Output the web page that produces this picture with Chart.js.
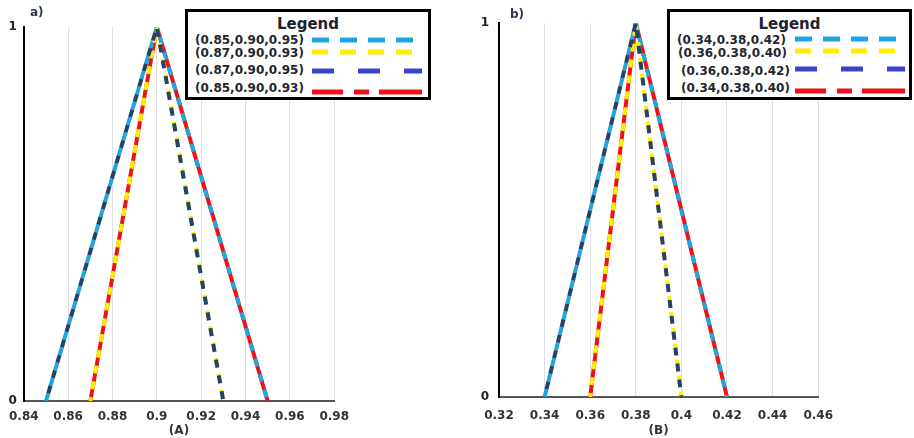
<!DOCTYPE html>
<html>
<head>
<meta charset="utf-8">
<script src="https://cdn.jsdelivr.net/npm/chart.js@4.4.1/dist/chart.umd.min.js"></script>
<style>
body{margin:0;background:#fff;width:914px;height:438px;position:relative;overflow:hidden;font-family:"DejaVu Sans",sans-serif;}
canvas{position:absolute;top:0;}
#chartA{left:0;}
#chartB{left:470px;}
.tag{position:absolute;font:bold 12px "DejaVu Sans";color:#2e3650;}
.legend{position:absolute;top:9px;height:91px;border:3px solid #000;box-sizing:border-box;background:#fff;z-index:2;}
.legend .ttl{position:absolute;top:3px;left:0;right:0;text-align:center;font:bold 15px "DejaVu Sans";color:#1e2230;}
.legend .row{position:absolute;font:bold 12px "DejaVu Sans";color:#23262e;white-space:nowrap;line-height:14px;}
.legend svg{position:absolute;}
</style>
</head>
<body>
<canvas id="chartA" width="358" height="438"></canvas>
<canvas id="chartB" width="375" height="438"></canvas>
<div class="tag" style="left:30px;top:5px;">a)</div>
<div class="tag" style="left:510px;top:7px;">b)</div>
<div class="legend" id="legendA" style="left:185px;width:246px;"></div>
<div class="legend" id="legendB" style="left:667px;width:245px;"></div>
<script>
// ================================
// DATA
// ================================

const membership = [0, 1, 0];

// panel (A) triangles, as drawn
const lightBlueA = [0.85, 0.90, 0.95];
const yellowA = [0.87, 0.90, 0.93];
const navyA = [0.85, 0.90, 0.93];
const redA = [0.87, 0.90, 0.95];

// panel (B) triangles, as drawn
const lightBlueB = [0.34, 0.38, 0.42];
const yellowB = [0.36, 0.38, 0.40];
const navyB = [0.34, 0.38, 0.40];
const redB = [0.36, 0.38, 0.42];

const xTicksA = [0.84, 0.86, 0.88, 0.90, 0.92, 0.94, 0.96, 0.98];
const xTickLabelsA = ['0.84', '0.86', '0.88', '0.9', '0.92', '0.94', '0.96', '0.98'];
const xTicksB = [0.32, 0.34, 0.36, 0.38, 0.40, 0.42, 0.44, 0.46];
const xTickLabelsB = ['0.32', '0.34', '0.36', '0.38', '0.4', '0.42', '0.44', '0.46'];
const yTicks = [0, 1];

const legendLabelsA = ['(0.85,0.90,0.95)', '(0.87,0.90,0.93)', '(0.87,0.90,0.95)', '(0.85,0.90,0.93)'];
const legendLabelsB = ['(0.34,0.38,0.42)', '(0.36,0.38,0.40)', '(0.36,0.38,0.42)', '(0.34,0.38,0.40)'];


// ================================
// HELPERS
// ================================

function toPoints(tri) {
  return tri.map((x, i) => ({x: x, y: membership[i]}));
}

function line(tri, color, dash, offset, order, width) {
  return {
    data: toPoints(tri),
    borderColor: color,
    borderWidth: width,
    borderDash: dash,
    borderDashOffset: offset,
    pointRadius: 0,
    tension: 0,
    fill: false,
    order: order
  };
}

function makeChart(id, sets, ticks, tickLabels, title, box) {
  return new Chart(document.getElementById(id), {
    type: 'line',
    data: {
      datasets: [
        line(sets[0], '#1ea6e2', [8, 8], 0, 3, 4),
        line(sets[1], '#fff000', [8, 8], box.yOff, 2, 4),
        line(sets[2], '#22436a', [8, 8], 8, 1, 4),
        line(sets[3], '#ee1218', [], 0, 4, 4)
      ]
    },
    options: {
      responsive: false,
      animation: false,
      layout: {padding: {left: 0, top: box.top, right: 15, bottom: 0}},
      plugins: {legend: {display: false}, tooltip: {enabled: false}},
      scales: {
        x: {
          type: 'linear',
          min: ticks[0],
          max: ticks[ticks.length - 1],
          afterBuildTicks: s => { s.ticks = ticks.map(v => ({value: v})); },
          afterFit: s => { s.height = box.xh; },
          grid: {color: '#dcdfe4', lineWidth: 1, drawTicks: false},
          border: {color: '#555', width: 2},
          ticks: {
            padding: box.tp,
            color: '#333',
            font: {family: 'DejaVu Sans', size: 12, weight: 'bold'},
            maxRotation: 0,
            autoSkip: false,
            callback: (v, i) => tickLabels[i]
          },
          title: {
            display: true,
            text: title,
            color: '#333',
            font: {family: 'DejaVu Sans', size: 12, weight: 'bold'},
            padding: {top: 0, bottom: box.titlePad}
          }
        },
        y: {
          min: 0,
          max: 1,
          afterBuildTicks: s => { s.ticks = yTicks.map(v => ({value: v})); },
          afterFit: s => { s.width = box.yw; },
          grid: {display: false, drawTicks: false},
          border: {color: '#000', width: 2},
          ticks: {
            padding: box.yp,
            color: '#222',
            font: {family: 'DejaVu Sans', size: 12, weight: 'bold'}
          }
        }
      }
    }
  });
}

// legend swatches: light blue, yellow, blue, red
const swatches = [
  {color: '#1ea6e2', dash: '17 11'},
  {color: '#ffee00', dash: '16 12'},
  {color: '#3b44c9', dash: '22 24'},
  {color: '#ee1218', dash: '31 11 15 10 41 0'}
];

function makeLegend(id, labels, rows) {
  const el = document.getElementById(id);
  let html = '<div class="ttl">Legend</div>';
  labels.forEach((t, i) => {
    const r = rows[i];
    const s = swatches[i];
    html += '<div class="row" style="left:' + r.lx + 'px;top:' + (r.ly - 7) + 'px;">' + t + '</div>';
    html += '<svg width="112" height="8" style="left:' + r.sx + 'px;top:' + (r.sy - 4) + 'px;">' +
      '<line x1="0" y1="4" x2="110" y2="4" stroke="' + s.color + '" stroke-width="5" stroke-dasharray="' + s.dash + '"/></svg>';
  });
  el.innerHTML = html;
}


// ================================
// CHARTS
// ================================

makeChart('chartA', [lightBlueA, yellowA, navyA, redA], xTicksA, xTickLabelsA, '(A)',
  {top: 27, xh: 37, tp: 9, titlePad: 0, yw: 23, yp: 7, yOff: 4});

makeChart('chartB', [lightBlueB, yellowB, navyB, redB], xTicksB, xTickLabelsB, '(B)',
  {top: 23, xh: 41, tp: 12, titlePad: 0, yw: 29, yp: 10, yOff: 4});

makeLegend('legendA', legendLabelsA, [
  {lx: 7, ly: 28, sx: 124, sy: 28},
  {lx: 7, ly: 41, sx: 124, sy: 40},
  {lx: 7, ly: 58, sx: 124, sy: 59},
  {lx: 7, ly: 76, sx: 124, sy: 80}
]);

makeLegend('legendB', legendLabelsB, [
  {lx: 7, ly: 28, sx: 125, sy: 27},
  {lx: 8, ly: 41, sx: 125, sy: 39},
  {lx: 11, ly: 59, sx: 125, sy: 57},
  {lx: 11, ly: 76, sx: 125, sy: 79}
]);
</script>
</body>
</html>
